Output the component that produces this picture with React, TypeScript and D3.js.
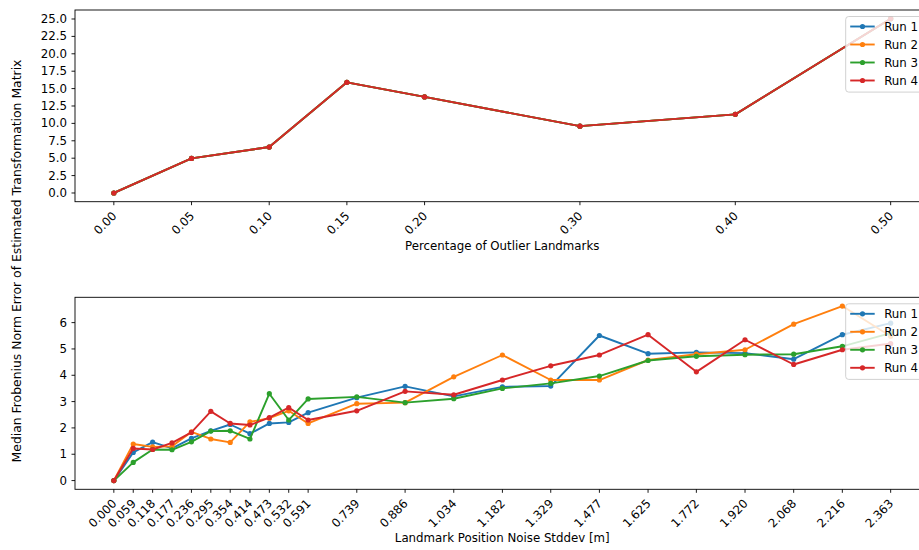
import React from 'react';
import * as d3 from 'd3';

// ---- Top panel data ----
const outlierPct = [0, 0.05, 0.1, 0.15, 0.2, 0.3, 0.4, 0.5];
const outlierTickLabels = ['0.00', '0.05', '0.10', '0.15', '0.20', '0.30', '0.40', '0.50'];
const outlierRun1 = [0, 4.97, 6.6, 15.9, 13.8, 9.6, 11.3, 25.04];
const outlierRun2 = [0, 4.97, 6.6, 15.9, 13.8, 9.6, 11.3, 25.04];
const outlierRun3 = [0, 4.97, 6.6, 15.9, 13.8, 9.6, 11.3, 25.04];
const outlierRun4 = [0, 4.97, 6.6, 15.9, 13.8, 9.6, 11.3, 25.04];
const topYTicks = [0, 2.5, 5, 7.5, 10, 12.5, 15, 17.5, 20, 22.5, 25];

// ---- Bottom panel data ----
const noiseStd = [0, 0.059, 0.118, 0.177, 0.236, 0.295, 0.354, 0.414, 0.473, 0.532, 0.591, 0.739, 0.886, 1.034, 1.182, 1.329, 1.477, 1.625, 1.772, 1.92, 2.068, 2.216, 2.363];
const noiseTickLabels = ['0.000', '0.059', '0.118', '0.177', '0.236', '0.295', '0.354', '0.414', '0.473', '0.532', '0.591', '0.739', '0.886', '1.034', '1.182', '1.329', '1.477', '1.625', '1.772', '1.920', '2.068', '2.216', '2.363'];
const noiseRun1 = [0, 1.07, 1.46, 1.22, 1.6, 1.89, 2.13, 1.78, 2.17, 2.21, 2.58, 3.15, 3.58, 3.2, 3.56, 3.59, 5.51, 4.82, 4.87, 4.84, 4.61, 5.54, 5.98];
const noiseRun2 = [0, 1.39, 1.28, 1.3, 1.85, 1.58, 1.45, 2.23, 2.37, 2.65, 2.17, 2.92, 2.96, 3.94, 4.77, 3.82, 3.82, 4.58, 4.8, 4.97, 5.94, 6.63, 5.48];
const noiseRun3 = [0, 0.69, 1.18, 1.17, 1.47, 1.88, 1.89, 1.58, 3.3, 2.3, 3.1, 3.18, 2.96, 3.11, 3.5, 3.69, 3.97, 4.56, 4.72, 4.78, 4.8, 5.1, 5.6];
const noiseRun4 = [0, 1.22, 1.18, 1.43, 1.83, 2.63, 2.17, 2.11, 2.39, 2.77, 2.3, 2.65, 3.39, 3.26, 3.82, 4.36, 4.77, 5.54, 4.13, 5.35, 4.41, 4.97, 5.2];
const bottomYTicks = [0, 1, 2, 3, 4, 5, 6];

const runNames = ['Run 1', 'Run 2', 'Run 3', 'Run 4'];
const runColors = ['#1f77b4', '#ff7f0e', '#2ca02c', '#d62728'];

const yLabel = 'Median Frobenius Norm Error of Estimated Transformation Matrix';
const topXLabel = 'Percentage of Outlier Landmarks';
const bottomXLabel = 'Landmark Position Noise Stddev [m]';

const W = 919;
const H = 550;
const FONT = 'DejaVu Sans, sans-serif';
const FS = 11.8;

function padDomain(vals: number[]): [number, number] {
  const mn = d3.min(vals) as number;
  const mx = d3.max(vals) as number;
  const r = mx - mn;
  return [mn - 0.05 * r, mx + 0.05 * r];
}

type PanelProps = {
  xs: number[];
  series: number[][];
  xTickLabels: string[];
  yTicks: number[];
  yFmt: (v: number) => string;
  top: number;
  bottom: number;
  xLabel: string;
  xLabelY: number;
};

function Panel({ xs, series, xTickLabels, yTicks, yFmt, top, bottom, xLabel, xLabelY }: PanelProps) {
  const left = 75;
  const right = 929.5;
  const x = d3.scaleLinear().domain(padDomain(xs)).range([left, right]);
  const allY = series.flat();
  const y = d3.scaleLinear().domain(padDomain(allY)).range([bottom, top]);
  const line = d3
    .line<number>()
    .x((_, i) => x(xs[i]))
    .y((d) => y(d));

  const legendTop = top + 6.5;
  const legendX = 845.7;
  const rowH = 18;

  return (
    <g>
      {/* spines */}
      <rect x={left} y={top} width={right - left} height={bottom - top} fill="none" stroke="#000" strokeWidth={0.9} />
      {/* y ticks */}
      {yTicks.map((t) => (
        <g key={'y' + t}>
          <line x1={left - 3.5} x2={left} y1={y(t)} y2={y(t)} stroke="#000" strokeWidth={0.9} />
          <text x={left - 8} y={y(t)} textAnchor="end" dominantBaseline="central" fontSize={FS} fontFamily={FONT} fill="#000">
            {yFmt(t)}
          </text>
        </g>
      ))}
      {/* x ticks */}
      {xs.map((v, i) => {
        const tx = x(v) + 3.5;
        const ty = bottom + 15;
        return (
          <g key={'x' + i}>
            <line x1={x(v)} x2={x(v)} y1={bottom} y2={bottom + 3.5} stroke="#000" strokeWidth={0.9} />
            <text x={tx} y={ty} textAnchor="end" fontSize={FS} fontFamily={FONT} fill="#000" transform={`rotate(-45 ${tx} ${ty})`}>
              {xTickLabels[i]}
            </text>
          </g>
        );
      })}
      {/* series */}
      {series.map((s, si) => (
        <g key={'s' + si}>
          <path d={line(s) || ''} fill="none" stroke={runColors[si]} strokeWidth={1.9} strokeLinejoin="round" strokeLinecap="square" />
          {s.map((d, i) => (
            <circle key={i} cx={x(xs[i])} cy={y(d)} r={2.6} fill={runColors[si]} />
          ))}
        </g>
      ))}
      {/* x label */}
      <text x={(left + right) / 2} y={xLabelY} textAnchor="middle" fontSize={FS} fontFamily={FONT} fill="#000">
        {xLabel}
      </text>
      {/* legend */}
      <g>
        <rect x={legendX} y={legendTop} width={80} height={rowH * 4 + 3.6} rx={3} fill="#fff" fillOpacity={0.8} stroke="#ccc" strokeWidth={0.9} />
        {runNames.map((n, i) => {
          const cy = legendTop + 10 + i * rowH;
          return (
            <g key={n}>
              <line x1={legendX + 4.5} x2={legendX + 29} y1={cy} y2={cy} stroke={runColors[i]} strokeWidth={1.9} />
              <circle cx={legendX + 16.8} cy={cy} r={2.6} fill={runColors[i]} />
              <text x={legendX + 38.5} y={cy} dominantBaseline="central" fontSize={FS} fontFamily={FONT} fill="#000">
                {n}
              </text>
            </g>
          );
        })}
      </g>
    </g>
  );
}

export default function App() {
  const labelY = 261;
  return (
    <svg width={W} height={H} style={{ position: 'absolute', left: 0, top: 0, background: '#fff' }}>
      <rect x={0} y={0} width={W} height={H} fill="#fff" />
      <Panel
        xs={outlierPct}
        series={[outlierRun1, outlierRun2, outlierRun3, outlierRun4]}
        xTickLabels={outlierTickLabels}
        yTicks={topYTicks}
        yFmt={(v) => v.toFixed(1)}
        top={10}
        bottom={201.7}
        xLabel={topXLabel}
        xLabelY={250}
      />
      <Panel
        xs={noiseStd}
        series={[noiseRun1, noiseRun2, noiseRun3, noiseRun4]}
        xTickLabels={noiseTickLabels}
        yTicks={bottomYTicks}
        yFmt={(v) => String(v)}
        top={297.3}
        bottom={489.3}
        xLabel={bottomXLabel}
        xLabelY={541.5}
      />
      <text
        x={16}
        y={labelY}
        transform={`rotate(-90 16 ${labelY})`}
        textAnchor="middle"
        dominantBaseline="central"
        fontSize={12.4}
        fontFamily={FONT}
        fill="#000"
      >
        {yLabel}
      </text>
    </svg>
  );
}
